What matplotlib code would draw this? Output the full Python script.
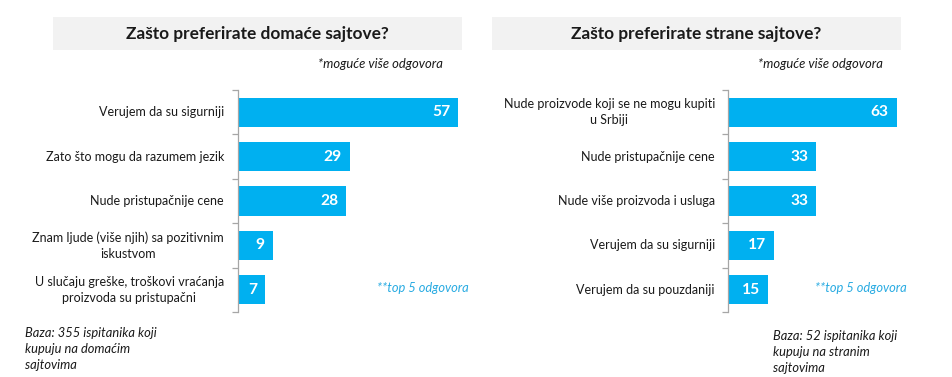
import matplotlib
matplotlib.use("Agg")
import matplotlib.pyplot as plt
from matplotlib.patches import Rectangle

plt.rcParams['font.family'] = ['Lato', 'DejaVu Sans']

left_title = "Zašto preferirate domaće sajtove?"
left_cats = ["Verujem da su sigurniji",
             "Zato što mogu da razumem jezik",
             "Nude pristupačnije cene",
             "Znam ljude (više njih) sa pozitivnim\niskustvom",
             "U slučaju greške, troškovi vraćanja\nproizvoda su pristupačni"]
left_vals = [57, 29, 28, 9, 7]
left_base = "Baza: 355 ispitanika koji\nkupuju na domaćim\nsajtovima"

right_title = "Zašto preferirate strane sajtove?"
right_cats = ["Nude proizvode koji se ne mogu kupiti\nu Srbiji",
              "Nude pristupačnije cene",
              "Nude više proizvoda i usluga",
              "Verujem da su sigurniji",
              "Verujem da su pouzdaniji"]
right_vals = [63, 33, 33, 17, 15]
right_base = "Baza: 52 ispitanika koji\nkupuju na stranim\nsajtovima"

note_multi = "*moguće više odgovora"
note_top = "**top 5 odgovora"

W, H = 953, 377
fig = plt.figure(figsize=(W / 100, H / 100), dpi=100)
BAR = "#00b0f0"

def fx(px):
    return px / W

def fy(py):
    return 1 - py / H

def panel(spine_x, scale, title_box, title, cats, vals, base, label_right, multi_right,
          top_x, base_x, base_y):
    ax_w = 240
    ax = fig.add_axes([fx(spine_x), fy(312), fx(ax_w), (312 - 90) / H])
    ax.set_xlim(0, ax_w / scale)
    n = len(cats)
    ax.set_ylim(n - 0.5, -0.5)
    ys = list(range(n))
    ax.barh(ys, vals, height=0.66, color=BAR, zorder=2)
    for y, v in zip(ys, vals):
        ax.text(v - 8 / scale, y, str(v), ha="right", va="center",
                color="white", fontsize=11.2, fontweight="bold")
    for s in ["top", "right", "bottom"]:
        ax.spines[s].set_visible(False)
    ax.spines["left"].set_color("#a6a6a6")
    ax.spines["left"].set_linewidth(0.9)
    ax.set_xticks([])
    ax.set_yticks([i - 0.5 for i in range(n + 1)])
    ax.set_yticklabels([])
    ax.tick_params(axis="y", length=4, color="#a6a6a6", direction="out", width=0.9)
    for y, c in zip(ys, cats):
        fig.text(fx(label_right), fy(90 + (y + 0.5) * 44.4), c, ha="right", va="center",
                 multialignment="center", fontsize=9.0, color="#1a1a1a", linespacing=1.4)
    x0, x1, y0, y1 = title_box
    fig.patches.append(Rectangle((fx(x0), fy(y1)), fx(x1 - x0), (y1 - y0) / H,
                                 transform=fig.transFigure, facecolor="#f2f2f2",
                                 edgecolor="none", zorder=0))
    fig.text(fx((x0 + x1) / 2), fy((y0 + y1) / 2), title, ha="center", va="center",
             fontsize=12.4, fontweight="bold", color="#1a1a1a")
    fig.text(fx(multi_right), fy(64), note_multi, ha="right", va="center",
             fontsize=9.4, style="italic", color="#1a1a1a")
    fig.text(fx(top_x), fy(288), note_top, ha="left", va="center",
             fontsize=9.3, style="italic", color="#29abe2")
    fig.text(fx(base_x), fy(base_y), base,
             ha="left", va="top", fontsize=9.3, style="italic", color="#1a1a1a",
             linespacing=1.4)

panel(238, 3.86, (53, 462, 17, 50), left_title, left_cats, left_vals, left_base,
      224, 443, 377, 25, 327)
panel(728, 2.68, (492, 901, 17, 50), right_title, right_cats, right_vals, right_base,
      715, 883, 815, 773, 330)

fig.savefig("out.png", dpi=100)
